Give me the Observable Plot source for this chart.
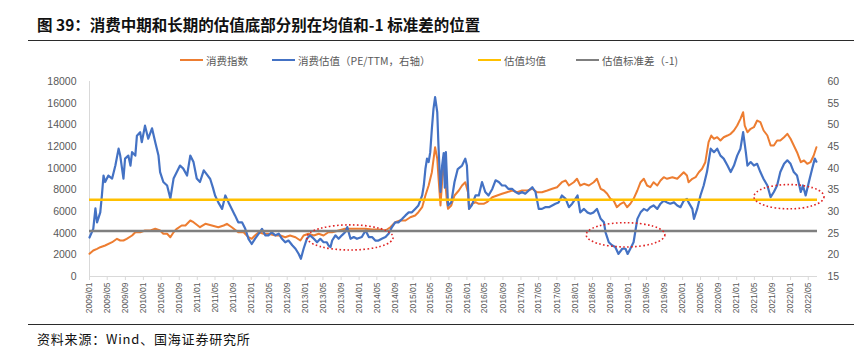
<!DOCTYPE html>
<html><head><meta charset="utf-8">
<script src="https://cdn.jsdelivr.net/npm/d3@7"></script>
<script src="https://cdn.jsdelivr.net/npm/@observablehq/plot@0.6"></script>
<style>
body{margin:0;background:#fff;width:854px;height:354px;position:relative;overflow:hidden;font-family:"Noto Sans CJK SC","Noto Sans",sans-serif}
#title{position:absolute;left:37px;top:14px;font-size:15.5px;font-weight:700;color:#111;white-space:nowrap;line-height:20px}
.hr{position:absolute;left:28px;right:0;height:0;border-top:1.5px solid #2b2b2b}
.lg{position:absolute;top:52px;height:16px;display:flex;align-items:center;font-size:10.5px;color:#595959;white-space:nowrap}
.lg span.sw{display:inline-block;width:23px;height:2.5px;margin-right:3px}
#chart{position:absolute;left:0;top:68px}
#source{position:absolute;left:37px;top:329px;font-size:13px;color:#111;letter-spacing:0.8px;white-space:nowrap}
</style></head>
<body>
<div id="title"></div>
<div class="hr" style="top:40px"></div>
<div id="legend"></div>
<div id="chart"></div>
<div class="hr" style="top:324px"></div>
<div id="source"></div>
<script>
const titleText = "图 39：消费中期和长期的估值底部分别在均值和-1 标准差的位置";
const sourceText = "资料来源：Wind、国海证券研究所";
const seriesNames = ["消费指数", "消费估值（PE/TTM，右轴）", "估值均值", "估值标准差（-1)"];
const seriesColors = ["#ED7D31", "#4472C4", "#FFC000", "#7F7F7F"];

// 消费指数 (left axis) : [decimal year, value]
const consumerIndex = [
[2009.00,2095],[2009.07,2400],[2009.14,2557],[2009.20,2705],[2009.29,2861],[2009.42,3166],[2009.51,3480],[2009.57,3323],[2009.63,3323],[2009.69,3480],[2009.79,3784],[2009.85,4089],[2009.94,4089],[2010.03,4246],[2010.13,4246],[2010.22,4403],[2010.31,4246],[2010.37,3941],[2010.44,3941],[2010.50,3627],[2010.56,4089],[2010.62,4403],[2010.71,4707],[2010.78,4707],[2010.87,5169],[2010.93,5012],[2011.05,4550],[2011.15,4864],[2011.27,4707],[2011.39,4550],[2011.49,4707],[2011.55,4864],[2011.64,4550],[2011.76,4089],[2011.86,4089],[2011.95,3627],[2012.01,3480],[2012.07,3784],[2012.14,4089],[2012.23,3941],[2012.32,3941],[2012.45,3784],[2012.54,3784],[2012.63,3627],[2012.72,3784],[2012.82,3627],[2012.91,3323],[2012.97,3784],[2013.06,3941],[2013.16,3784],[2013.25,3941],[2013.34,3784],[2013.43,4089],[2013.50,4089],[2013.62,4246],[2013.74,4403],[2013.87,4403],[2013.99,4403],[2014.12,4403],[2014.24,4338],[2014.36,4338],[2014.49,4246],[2014.58,4550],[2014.67,5012],[2014.76,5169],[2014.86,5169],[2014.95,5473],[2015.04,5630],[2015.10,5935],[2015.17,6396],[2015.23,7476],[2015.29,8399],[2015.35,9627],[2015.41,11935],[2015.45,10864],[2015.47,9322],[2015.51,6553],[2015.54,8704],[2015.57,10550],[2015.60,8704],[2015.63,6858],[2015.65,6249],[2015.71,6553],[2015.77,7476],[2015.85,7938],[2015.91,8399],[2015.97,8704],[2016.02,7781],[2016.04,6249],[2016.09,6710],[2016.16,6858],[2016.22,6710],[2016.31,6710],[2016.37,6858],[2016.47,7319],[2016.56,7476],[2016.65,7633],[2016.74,7781],[2016.84,7938],[2016.93,7781],[2017.02,7938],[2017.12,7938],[2017.21,8095],[2017.30,7781],[2017.39,7781],[2017.49,7938],[2017.58,8095],[2017.67,8243],[2017.76,8704],[2017.83,8861],[2017.89,8399],[2017.98,8704],[2018.04,9018],[2018.10,8399],[2018.17,8556],[2018.26,8399],[2018.35,8704],[2018.41,9018],[2018.48,8095],[2018.54,7938],[2018.60,7633],[2018.66,7172],[2018.72,7015],[2018.78,6396],[2018.85,6710],[2018.91,6858],[2018.97,6396],[2019.03,6710],[2019.09,7172],[2019.16,7938],[2019.22,8704],[2019.28,9018],[2019.34,8399],[2019.40,8243],[2019.46,8704],[2019.53,8399],[2019.59,8861],[2019.65,9165],[2019.71,9018],[2019.81,9165],[2019.90,9018],[2019.96,9322],[2020.02,9627],[2020.08,9322],[2020.11,8704],[2020.18,9018],[2020.24,9165],[2020.30,9627],[2020.36,9941],[2020.42,10550],[2020.48,12396],[2020.53,13014],[2020.58,12710],[2020.64,12857],[2020.70,12553],[2020.76,12857],[2020.83,13014],[2020.89,13171],[2020.95,13476],[2021.01,13937],[2021.07,14556],[2021.12,15165],[2021.15,13937],[2021.20,13319],[2021.26,13633],[2021.32,13780],[2021.38,14399],[2021.44,14242],[2021.50,13476],[2021.57,13014],[2021.63,12091],[2021.69,12091],[2021.75,12553],[2021.81,12553],[2021.88,12857],[2021.94,13171],[2022.00,12710],[2022.06,12091],[2022.12,11473],[2022.19,10550],[2022.25,10707],[2022.31,10402],[2022.37,10550],[2022.43,11168],[2022.46,11630],[2022.48,11935]
];

// 消费估值 PE/TTM (right axis) : [decimal year, PE]
const consumerPE = [
[2009.00,24.0],[2009.07,26.0],[2009.11,30.7],[2009.14,27.5],[2009.20,29.8],[2009.23,33.7],[2009.26,38.3],[2009.29,36.8],[2009.35,38.3],[2009.42,37.6],[2009.48,40.6],[2009.54,44.5],[2009.57,42.9],[2009.63,37.6],[2009.66,42.2],[2009.72,42.9],[2009.76,40.6],[2009.79,43.7],[2009.85,42.9],[2009.88,47.5],[2009.94,48.3],[2009.97,46.0],[2010.03,49.8],[2010.09,46.8],[2010.16,49.2],[2010.22,46.0],[2010.28,42.9],[2010.31,39.1],[2010.37,36.8],[2010.44,36.0],[2010.50,33.0],[2010.56,37.6],[2010.62,39.1],[2010.68,40.6],[2010.74,39.9],[2010.81,38.3],[2010.87,42.9],[2010.93,41.4],[2010.99,37.6],[2011.05,36.8],[2011.12,39.5],[2011.18,38.5],[2011.24,37.5],[2011.29,35.5],[2011.33,33.7],[2011.39,32.1],[2011.46,30.6],[2011.52,33.7],[2011.58,32.1],[2011.64,30.6],[2011.70,29.1],[2011.76,27.5],[2011.83,27.5],[2011.89,26.0],[2011.95,23.7],[2012.01,22.5],[2012.07,23.7],[2012.14,24.9],[2012.20,26.0],[2012.26,24.5],[2012.32,24.5],[2012.38,25.2],[2012.45,24.5],[2012.51,24.9],[2012.57,23.7],[2012.63,22.9],[2012.69,23.3],[2012.76,22.2],[2012.82,21.4],[2012.88,20.2],[2012.92,19.1],[2012.97,21.4],[2013.03,23.7],[2013.09,24.5],[2013.16,23.7],[2013.22,22.9],[2013.28,23.7],[2013.34,22.9],[2013.40,22.9],[2013.43,22.2],[2013.47,21.8],[2013.50,23.3],[2013.56,24.5],[2013.62,23.7],[2013.68,24.5],[2013.74,25.2],[2013.78,26.4],[2013.84,23.7],[2013.90,24.1],[2013.96,23.7],[2014.05,24.1],[2014.12,25.6],[2014.18,24.1],[2014.24,24.1],[2014.30,23.3],[2014.36,23.3],[2014.42,23.7],[2014.49,24.1],[2014.55,24.9],[2014.61,26.4],[2014.67,27.5],[2014.73,27.5],[2014.80,28.3],[2014.86,29.1],[2014.92,29.8],[2014.98,29.8],[2015.04,30.6],[2015.10,31.4],[2015.17,33.7],[2015.20,36.0],[2015.23,39.8],[2015.26,42.2],[2015.29,41.4],[2015.32,43.7],[2015.35,49.1],[2015.38,53.7],[2015.41,56.4],[2015.45,52.9],[2015.47,46.0],[2015.51,34.5],[2015.54,40.6],[2015.57,43.5],[2015.59,35.5],[2015.61,43.7],[2015.65,31.4],[2015.71,32.1],[2015.77,36.8],[2015.83,39.8],[2015.91,40.6],[2015.97,42.2],[2016.00,40.6],[2016.04,30.6],[2016.09,31.4],[2016.16,33.7],[2016.22,33.7],[2016.28,36.8],[2016.34,34.5],[2016.40,33.7],[2016.47,35.2],[2016.53,37.2],[2016.59,36.8],[2016.65,36.0],[2016.71,36.0],[2016.77,35.2],[2016.84,35.2],[2016.90,34.5],[2016.96,34.1],[2017.02,34.5],[2017.08,34.1],[2017.14,34.8],[2017.21,35.6],[2017.27,34.5],[2017.33,30.6],[2017.39,30.6],[2017.45,31.0],[2017.52,31.0],[2017.58,31.4],[2017.64,31.8],[2017.70,32.1],[2017.76,33.7],[2017.83,32.9],[2017.89,31.0],[2017.95,31.8],[2018.01,32.9],[2018.05,33.7],[2018.10,29.8],[2018.17,30.6],[2018.23,29.8],[2018.29,29.5],[2018.35,29.8],[2018.41,30.6],[2018.48,28.3],[2018.54,27.5],[2018.57,25.2],[2018.63,22.9],[2018.69,22.2],[2018.75,21.8],[2018.81,20.2],[2018.88,21.4],[2018.94,21.4],[2018.98,20.2],[2019.03,21.4],[2019.09,22.9],[2019.12,25.2],[2019.16,28.3],[2019.22,29.8],[2019.28,30.6],[2019.34,30.2],[2019.40,31.0],[2019.46,31.4],[2019.53,30.6],[2019.59,31.8],[2019.65,32.5],[2019.71,32.1],[2019.77,31.8],[2019.84,32.1],[2019.90,31.4],[2019.96,31.0],[2020.02,32.5],[2020.08,32.9],[2020.11,32.1],[2020.18,30.6],[2020.21,28.3],[2020.27,30.6],[2020.33,33.7],[2020.39,36.0],[2020.45,39.1],[2020.52,44.5],[2020.58,43.7],[2020.64,44.5],[2020.70,42.9],[2020.76,42.2],[2020.83,40.6],[2020.89,39.1],[2020.95,40.6],[2021.01,42.9],[2021.07,44.5],[2021.12,48.3],[2021.17,43.7],[2021.20,40.6],[2021.26,41.4],[2021.32,40.6],[2021.38,41.0],[2021.44,39.1],[2021.50,37.5],[2021.57,36.0],[2021.63,33.3],[2021.69,34.5],[2021.75,36.0],[2021.81,39.1],[2021.88,41.0],[2021.94,41.8],[2022.00,41.0],[2022.06,39.1],[2022.12,38.3],[2022.19,34.5],[2022.23,36.0],[2022.28,33.7],[2022.34,36.8],[2022.40,39.8],[2022.45,42.2],[2022.48,41.5]
];

const peMean = 32.7;      // 估值均值
const peMinus1SD = 25.5;  // 估值标准差（-1)
const leftTicks = [0,2000,4000,6000,8000,10000,12000,14000,16000,18000];
const rightTicks = [15,20,25,30,35,40,45,50,55,60];
// annotation ellipses: center (year, PE) and half-extent (years, PE)
const circles = [
  {t:2013.84, pe:23.9, dt:0.80, dpe:2.9},
  {t:2018.95, pe:24.5, dt:0.73, dpe:2.8},
  {t:2021.98, pe:33.3, dt:0.65, dpe:2.8}
];

const toDate = t => { const y = Math.floor(t); const a = Date.UTC(y,0,1), b = Date.UTC(y+1,0,1); return new Date(a + (t-y)*(b-a)); };
const pe2y = p => (p - 15) * 400;  // right axis 15–60 onto left axis 0–18000
const idxData = consumerIndex.map(([t,v]) => ({date: toDate(t), v}));
const peData = consumerPE.map(([t,v]) => ({date: toDate(t), v}));
const x0 = new Date(Date.UTC(2009,0,1)), x1 = toDate(2022.50);
const xTicks = d3.utcMonth.every(4).range(x0, new Date(Date.UTC(2022,5,1)));
const fmt = d3.utcFormat("%Y/%m");

document.getElementById("title").textContent = titleText;
document.getElementById("source").textContent = sourceText;
const legendX = [180, 272, 478, 576];
const legend = document.getElementById("legend");
seriesNames.forEach((n,i) => {
  const d = document.createElement("div"); d.className = "lg"; d.style.left = legendX[i] + "px";
  const s = document.createElement("span"); s.className = "sw"; s.style.background = seriesColors[i];
  d.appendChild(s); d.appendChild(document.createTextNode(n)); legend.appendChild(d);
});

const axisStyle = {fill: "#595959", fontFamily: "'Liberation Sans', Arial, sans-serif", label: null};
const chart = Plot.plot({
  width: 854, height: 260,
  marginTop: 13, marginBottom: 52, marginLeft: 89, marginRight: 37,
  style: {fontFamily: "'Liberation Sans', Arial, sans-serif", background: "transparent"},
  x: {type: "utc", domain: [x0, x1], label: null},
  y: {domain: [0, 18000], label: null},
  marks: [
    Plot.ruleY([0], {stroke: "#d9d9d9", strokeWidth: 1}),
    Plot.ruleX([x0], {y1: 0, y2: 18000, stroke: "#d9d9d9", strokeWidth: 1}),
    Plot.axisY(leftTicks, {anchor: "left", tickSize: 0, tickPadding: 13, fontSize: 10.5, tickFormat: d => String(d), ...axisStyle}),
    Plot.axisY(rightTicks.map(pe2y), {anchor: "right", tickSize: 0, tickPadding: 10, fontSize: 10.5, tickFormat: d => String(Math.round(d/400 + 15)), ...axisStyle}),
    Plot.axisX(xTicks, {anchor: "bottom", tickRotate: -90, tickSize: 4, tickPadding: 2, fontSize: 8.5, stroke: "#d9d9d9", tickFormat: fmt, ...axisStyle}),
    Plot.line(idxData, {x: "date", y: "v", stroke: seriesColors[0], strokeWidth: 2}),
    Plot.line(peData, {x: "date", y: d => pe2y(d.v), stroke: seriesColors[1], strokeWidth: 2.2}),
    Plot.ruleY([pe2y(peMean)], {stroke: seriesColors[2], strokeWidth: 2.6}),
    Plot.ruleY([pe2y(peMinus1SD)], {stroke: seriesColors[3], strokeWidth: 2.6}),
    (index, scales) => {
      const g = d3.create("svg:g").attr("fill", "none").attr("stroke", "#E02424")
        .attr("stroke-width", 1.6).attr("stroke-dasharray", "1.6 2.4");
      for (const c of circles) {
        const cx = scales.x(toDate(c.t)), rx = scales.x(toDate(c.t + c.dt)) - cx;
        const cy = scales.y(pe2y(c.pe)), ry = scales.y(pe2y(c.pe - c.dpe)) - cy;
        g.append("ellipse").attr("cx", cx).attr("cy", cy).attr("rx", rx).attr("ry", ry);
      }
      return g.node();
    }
  ]
});
document.getElementById("chart").appendChild(chart);
</script>
</body></html>
